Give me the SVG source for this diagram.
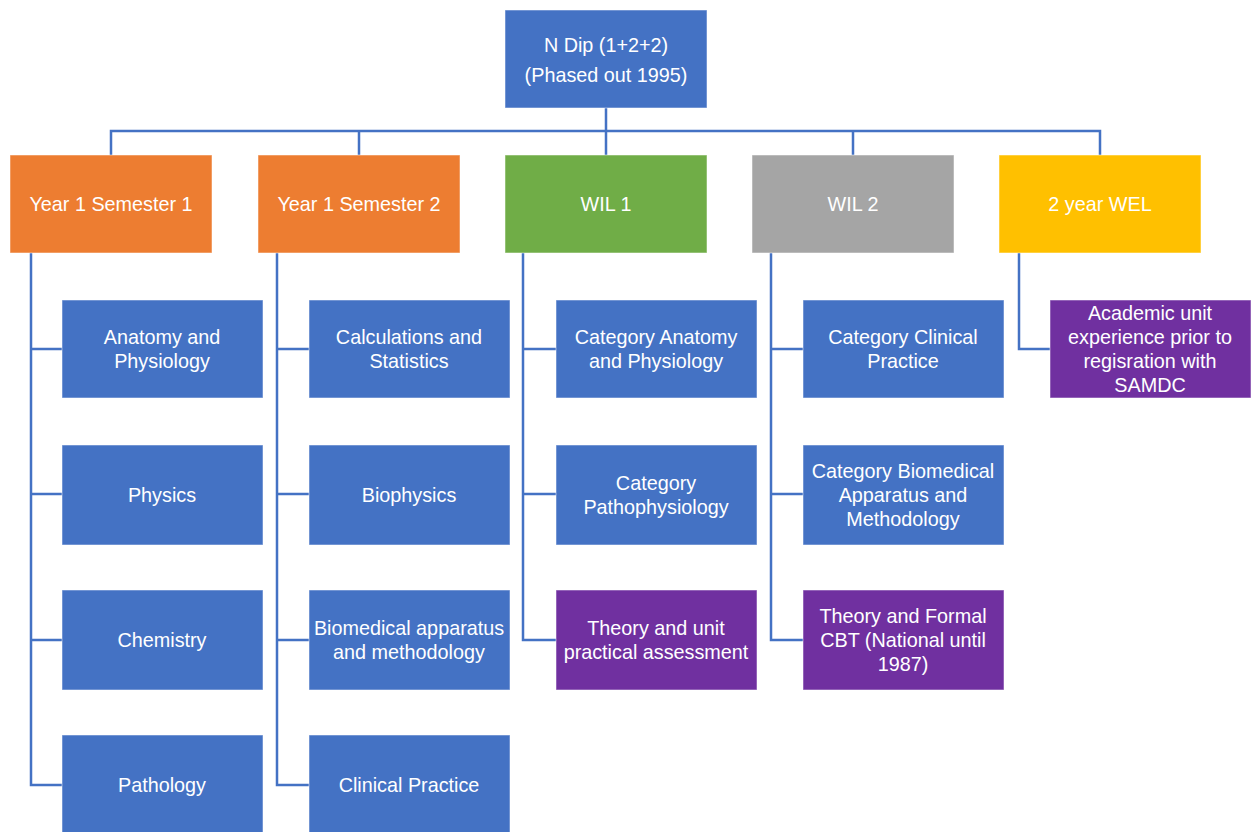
<svg xmlns="http://www.w3.org/2000/svg" width="1257" height="832" viewBox="0 0 1257 832">
  <style>
    .box { stroke: #ffffff; stroke-opacity: 0.5; stroke-width: 1; }
    .blue { fill: #4472C4; }
    .orange { fill: #ED7D31; }
    .green { fill: #70AD47; }
    .gray { fill: #A5A5A5; }
    .yellow { fill: #FFC000; }
    .purple { fill: #7030A0; }
    .lbl { font-family: "Liberation Sans", Arial, sans-serif; font-size: 19.8px; fill: #ffffff; text-anchor: middle; dominant-baseline: central; }
    .conn { fill: none; stroke: #4472C4; stroke-width: 2.5; }
  </style>

  <!-- connectors -->
  <g id="connectors">
    <path class="conn" d="M606,108 V155 M111,155 V131 H1100 V155 M359,131 V155 M853,131 V155"/>
    <path class="conn" d="M31,253 V785 H62 M31,349 H62 M31,494 H62 M31,640 H62"/>
    <path class="conn" d="M277,253 V785 H309 M277,349 H309 M277,494 H309 M277,640 H309"/>
    <path class="conn" d="M523,253 V640 H556 M523,349 H556 M523,494 H556"/>
    <path class="conn" d="M771,253 V640 H803 M771,349 H803 M771,494 H803"/>
    <path class="conn" d="M1019,253 V349 H1050"/>
  </g>

  <!-- root -->
  <g id="root">
    <rect class="box blue" x="505" y="10" width="202" height="98"/>
    <text class="lbl" x="606" y="45">N Dip (1+2+2)</text>
    <text class="lbl" x="606" y="75">(Phased out 1995)</text>
  </g>

  <!-- first level -->
  <g id="y1s1">
    <rect class="box orange" x="10" y="155" width="202" height="98"/>
    <text class="lbl" x="111" y="204">Year 1 Semester 1</text>
  </g>
  <g id="y1s2">
    <rect class="box orange" x="258" y="155" width="202" height="98"/>
    <text class="lbl" x="359" y="204">Year 1 Semester 2</text>
  </g>
  <g id="wil1">
    <rect class="box green" x="505" y="155" width="202" height="98"/>
    <text class="lbl" x="606" y="204">WIL 1</text>
  </g>
  <g id="wil2">
    <rect class="box gray" x="752" y="155" width="202" height="98"/>
    <text class="lbl" x="853" y="204">WIL 2</text>
  </g>
  <g id="wel">
    <rect class="box yellow" x="999" y="155" width="202" height="98"/>
    <text class="lbl" x="1100" y="204">2 year WEL</text>
  </g>

  <!-- Year 1 Semester 1 subjects -->
  <g id="anatomy">
    <rect class="box blue" x="62" y="300" width="201" height="98"/>
    <text class="lbl" x="162" y="337">Anatomy and</text>
    <text class="lbl" x="162" y="361">Physiology</text>
  </g>
  <g id="physics">
    <rect class="box blue" x="62" y="445" width="201" height="100"/>
    <text class="lbl" x="162" y="495">Physics</text>
  </g>
  <g id="chemistry">
    <rect class="box blue" x="62" y="590" width="201" height="100"/>
    <text class="lbl" x="162" y="640">Chemistry</text>
  </g>
  <g id="pathology">
    <rect class="box blue" x="62" y="735" width="201" height="98"/>
    <text class="lbl" x="162" y="785">Pathology</text>
  </g>

  <!-- Year 1 Semester 2 subjects -->
  <g id="calculations">
    <rect class="box blue" x="309" y="300" width="201" height="98"/>
    <text class="lbl" x="409" y="337">Calculations and</text>
    <text class="lbl" x="409" y="361">Statistics</text>
  </g>
  <g id="biophysics">
    <rect class="box blue" x="309" y="445" width="201" height="100"/>
    <text class="lbl" x="409" y="495">Biophysics</text>
  </g>
  <g id="biomedical">
    <rect class="box blue" x="309" y="590" width="201" height="100"/>
    <text class="lbl" x="409" y="628">Biomedical apparatus</text>
    <text class="lbl" x="409" y="652">and methodology</text>
  </g>
  <g id="clinical">
    <rect class="box blue" x="309" y="735" width="201" height="98"/>
    <text class="lbl" x="409" y="785">Clinical Practice</text>
  </g>

  <!-- WIL 1 -->
  <g id="cat-anatomy">
    <rect class="box blue" x="556" y="300" width="201" height="98"/>
    <text class="lbl" x="656" y="337">Category Anatomy</text>
    <text class="lbl" x="656" y="361">and Physiology</text>
  </g>
  <g id="cat-patho">
    <rect class="box blue" x="556" y="445" width="201" height="100"/>
    <text class="lbl" x="656" y="483">Category</text>
    <text class="lbl" x="656" y="507">Pathophysiology</text>
  </g>
  <g id="theory-unit">
    <rect class="box purple" x="556" y="590" width="201" height="100"/>
    <text class="lbl" x="656" y="628">Theory and unit</text>
    <text class="lbl" x="656" y="652">practical assessment</text>
  </g>

  <!-- WIL 2 -->
  <g id="cat-clinical">
    <rect class="box blue" x="803" y="300" width="201" height="98"/>
    <text class="lbl" x="903" y="337">Category Clinical</text>
    <text class="lbl" x="903" y="361">Practice</text>
  </g>
  <g id="cat-biomedical">
    <rect class="box blue" x="803" y="445" width="201" height="100"/>
    <text class="lbl" x="903" y="471">Category Biomedical</text>
    <text class="lbl" x="903" y="495">Apparatus and</text>
    <text class="lbl" x="903" y="519">Methodology</text>
  </g>
  <g id="theory-formal">
    <rect class="box purple" x="803" y="590" width="201" height="100"/>
    <text class="lbl" x="903" y="616">Theory and Formal</text>
    <text class="lbl" x="903" y="640">CBT (National until</text>
    <text class="lbl" x="903" y="664">1987)</text>
  </g>

  <!-- 2 year WEL -->
  <g id="academic">
    <rect class="box purple" x="1050" y="300" width="201" height="98"/>
    <text class="lbl" x="1150" y="313">Academic unit</text>
    <text class="lbl" x="1150" y="337">experience prior to</text>
    <text class="lbl" x="1150" y="361">regisration with</text>
    <text class="lbl" x="1150" y="385">SAMDC</text>
  </g>
</svg>
